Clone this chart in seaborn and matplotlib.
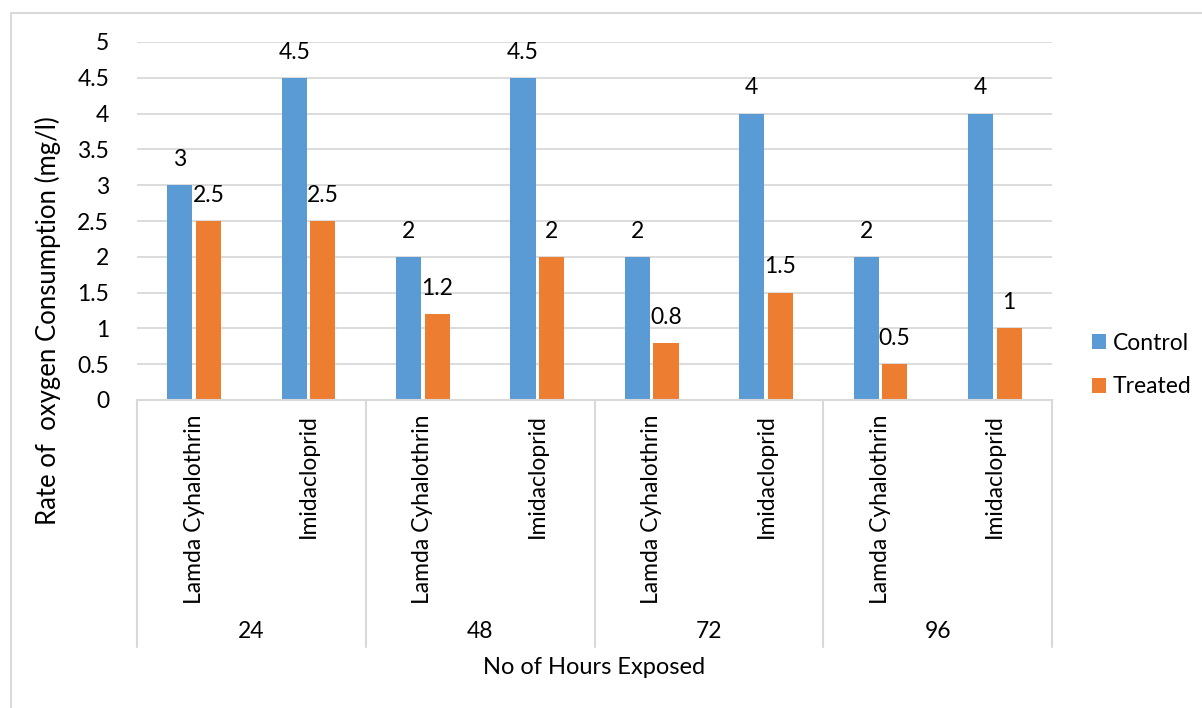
import matplotlib
matplotlib.use("Agg")
import matplotlib.pyplot as plt
from matplotlib.lines import Line2D
import seaborn as sns
import pandas as pd

hours = ["24", "24", "48", "48", "72", "72", "96", "96"]
insecticides = ["Lamda Cyhalothrin", "Imidacloprid"] * 4
control = [3, 4.5, 2, 4.5, 2, 4, 2, 4]
treated = [2.5, 2.5, 1.2, 2, 0.8, 1.5, 0.5, 1]
series_names = ["Control", "Treated"]
palette = {"Control": "#5B9BD5", "Treated": "#ED7D31"}
y_ticks = [0, 0.5, 1, 1.5, 2, 2.5, 3, 3.5, 4, 4.5, 5]
y_tick_labels = ["0", "0.5", "1", "1.5", "2", "2.5", "3", "3.5", "4", "4.5", "5"]

keys = [f"{h}|{i}" for h, i in zip(hours, insecticides)]
df = pd.DataFrame({
    "key": keys * 2,
    "series": [series_names[0]] * len(keys) + [series_names[1]] * len(keys),
    "value": control + treated,
})

sns.set_theme(style="white")
plt.rcParams["font.family"] = ["Lato", "DejaVu Sans"]
FS = 16.5
TXT = "#000000"
GRID = "#D9D9D9"

fig = plt.figure(figsize=(12.02, 7.08), dpi=100)
W, H = 1202, 708
ax = fig.add_axes([137 / W, 1 - 400 / H, (1052 - 137) / W, (400 - 42) / H])

sns.barplot(data=df, x="key", y="value", hue="series", order=keys,
            hue_order=series_names, palette=palette, width=0.5, gap=0.12,
            saturation=1, ax=ax, legend=True, edgecolor="none")

ax.set_xlim(-0.5, len(keys) - 0.5)
ax.set_ylim(0, 5)
ax.set_yticks(y_ticks)
ax.set_yticklabels(y_tick_labels, fontsize=FS, color=TXT)
ax.tick_params(axis="y", length=0, pad=20)
ax.set_xticks([])
ax.set_xlabel("")
ax.set_ylabel("")
for yv in y_ticks[1:]:
    ax.axhline(yv, color=GRID, lw=1.3, zorder=0)
for s in ["top", "right", "left"]:
    ax.spines[s].set_visible(False)
ax.spines["bottom"].set_color(GRID)
ax.spines["bottom"].set_linewidth(1.5)

# value labels above each bar
for cont in ax.containers:
    for bar in cont:
        v = bar.get_height()
        ax.annotate(f"{v:g}", (bar.get_x() + bar.get_width() / 2, v),
                    xytext=(0, 18.5), textcoords="offset points",
                    ha="center", va="center", fontsize=FS, color=TXT)

# multi-level category axis
trans = ax.get_xaxis_transform()
ax_h = 400 - 42
for xb in [-0.5, 1.5, 3.5, 5.5, 7.5]:
    ax.add_line(Line2D([xb, xb], [0, -(647 - 400) / ax_h], transform=trans,
                       color=GRID, lw=1.5, clip_on=False))
for xi, name in enumerate(insecticides):
    ax.text(xi, -(414 - 400) / ax_h, name, transform=trans, rotation=90,
            ha="center", va="top", fontsize=FS, color=TXT)
for g in range(4):
    ax.text(2 * g + 0.5, -(632 - 400) / ax_h, hours[2 * g], transform=trans,
            ha="center", va="center", fontsize=FS, color=TXT)

fig.text(594 / W, 1 - 668 / H, "No of Hours Exposed", ha="center",
         va="center", fontsize=17, color=TXT)
fig.text(48 / W, 1 - 321 / H, "Rate of  oxygen Consumption (mg/l)",
         rotation=90, ha="center", va="center", fontsize=18.5, color=TXT)

handles, labels = ax.get_legend_handles_labels()
ax.legend(handles, labels, loc="center left",
          bbox_to_anchor=(1092 / W, 1 - 365 / H), bbox_transform=fig.transFigure,
          frameon=False, fontsize=FS, handlelength=0.6, handleheight=0.6,
          handletextpad=0.3, labelspacing=1.0, labelcolor=TXT,
          borderpad=0, borderaxespad=0)

# chart area border
fig.add_artist(Line2D([11 / W, 11 / W], [0, 1 - 13 / H], transform=fig.transFigure,
                      color=GRID, lw=1.5))
fig.add_artist(Line2D([11 / W, 1], [1 - 13 / H, 1 - 13 / H], transform=fig.transFigure,
                      color=GRID, lw=1.5))

fig.savefig("out.png", dpi=100)
